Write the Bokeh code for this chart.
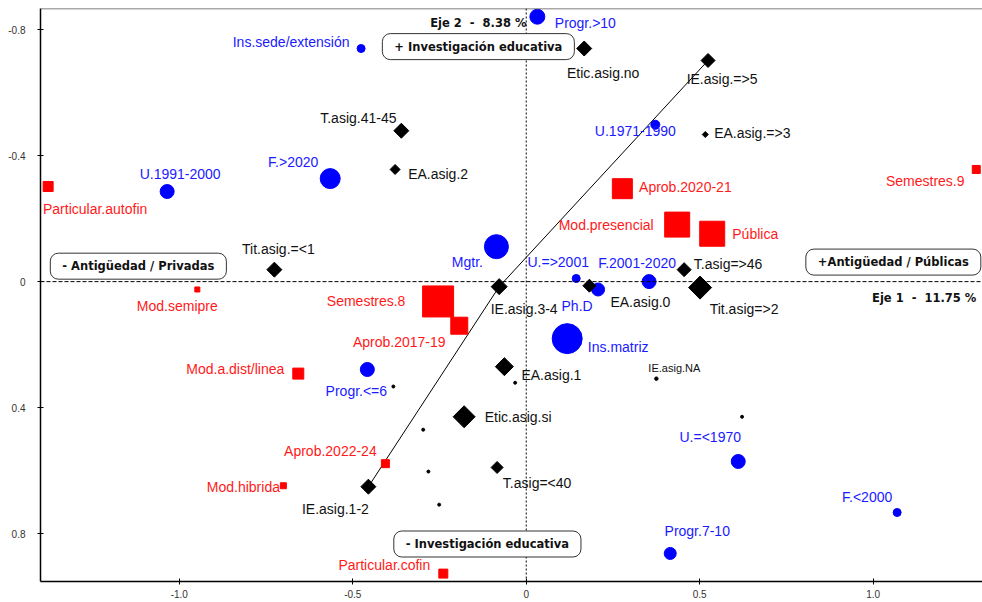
import math
from bokeh.plotting import figure
from bokeh.models import Range1d, FixedTicker, Span, Label, ColumnDataSource
from bokeh.embed import file_html
from bokeh.resources import INLINE
from bokeh.core.properties import value

# ---------------- data (factor map coordinates) ----------------
# Blue: institution / faculty / program characteristics (circles)
azul_cat = ["Progr.>10", "Ins.sede/extensión", "U.1991-2000", "F.>2020", "U.1971-1990",
            "Mgtr.", "U.=>2001", "Ph.D", "F.2001-2020", "Ins.matriz", "Progr.<=6",
            "U.=<1970", "F.<2000", "Progr.7-10"]
azul_x = [0.032, -0.476, -1.035, -0.565, 0.372, -0.086, 0.144, 0.207, 0.354, 0.118,
          -0.458, 0.611, 1.069, 0.415]
azul_y = [-0.841, -0.740, -0.286, -0.327, -0.498, -0.111, -0.010, 0.025, 0.000, 0.181,
          0.279, 0.571, 0.733, 0.863]
azul_peso = [1.5, 0.8, 1.4, 2.0, 0.9, 2.4, 0.8, 1.3, 1.4, 3.0, 1.4, 1.4, 0.8, 1.2]

# Red: financing / modality / semesters / approval (squares)
rojo_cat = ["Particular.autofin", "Semestres.9", "Aprob.2020-21", "Mod.presencial", "Pública",
            "Semestres.8", "Aprob.2017-19", "Mod.semipre", "Mod.a.dist/linea",
            "Aprob.2022-24", "Mod.hibrida", "Particular.cofin"]
rojo_x = [-1.378, 1.297, 0.277, 0.435, 0.536, -0.254, -0.193, -0.948, -0.657, -0.406,
          -0.700, -0.239]
rojo_y = [-0.302, -0.356, -0.295, -0.181, -0.152, 0.063, 0.140, 0.025, 0.292, 0.578,
          0.648, 0.927]
rojo_peso = [1.0, 0.8, 2.0, 2.5, 2.5, 3.1, 1.7, 0.5, 1.1, 0.8, 0.6, 0.9]

# Black: course / research variables (diamonds)
negro_cat = ["Etic.asig.no", "IE.asig.=>5", "T.asig.41-45", "EA.asig.2", "EA.asig.=>3",
             "Tit.asig.=<1", "IE.asig.3-4", "EA.asig.0", "T.asig=>46", "Tit.asig=>2",
             "EA.asig.1", "Etic.asig.si", "T.asig=<40", "IE.asig.1-2"]
negro_x = [0.167, 0.524, -0.360, -0.378, 0.516, -0.726, -0.078, 0.182, 0.455, 0.501,
           -0.063, -0.179, -0.084, -0.455]
negro_y = [-0.740, -0.702, -0.479, -0.356, -0.467, -0.038, 0.016, 0.013, -0.038, 0.019,
           0.270, 0.429, 0.590, 0.651]
negro_peso = [1.5, 1.4, 1.5, 1.0, 0.6, 1.5, 1.6, 1.3, 1.4, 2.3, 1.8, 2.2, 1.2, 1.5]

# Tiny category with small label
na_cat = ["IE.asig.NA"]
na_x = [0.375]
na_y = [0.308]

# Unlabelled minor categories
menor_x = [-0.032, -0.383, -0.297, -0.282, -0.251, 0.622]
menor_y = [0.321, 0.333, 0.470, 0.603, 0.708, 0.429]

# Trajectory of ordinal variable IE.asig (1-2 -> 3-4 -> =>5)
tray_cat = ["IE.asig.1-2", "IE.asig.3-4", "IE.asig.=>5"]

# Axis ticks
x_ticks = [-1.0, -0.5, 0.0, 0.5, 1.0]
x_tick_labels = ["-1.0", "-0.5", "0", "0.5", "1.0"]
y_ticks = [-0.8, -0.4, 0.0, 0.4, 0.8]
y_tick_labels = ["-0.8", "-0.4", "0", "0.4", "0.8"]

NB = "\u00a0"
eje1 = "Eje 1" + NB * 2 + "-" + NB * 2 + "11.75" + NB + "%"
eje2 = "Eje 2" + NB * 2 + "-" + NB * 2 + "8.38" + NB + "%"

# ---------------- label layout (screen pixel offsets) ----------------
azul_dx = [48, -70, 13, -37, -20, -29, -18, -21, -12, 51, -11, -28, -30, 27]
azul_dy = [6, -7, -18, -17, 6, 15, -16, 17, -19, 8, 22, -24, -16, -22]
rojo_dx = [47, -51, 63, -71, 43, -72, -60, -20, -63, -55, -40, -59]
rojo_dy = [23, 12, -2, 0, 0, 0, 16, 17, -5, -13, 1, -9]
negro_dx = [19, 14, -43, 43, 47, 4, 25, 51, 44, 44, 47, 54, 40, -33]
negro_dy = [24, 19, -13, 5, -2, -21, 22, 16, -6, 21, 8, 0, 16, 22]

XMIN, XMAX = -1.40, 1.315
YTOP, YBOT = -0.867, 0.952

p = figure(width=982, height=602, output_backend="svg", toolbar_location=None,
           x_range=Range1d(XMIN, XMAX), y_range=Range1d(YBOT, YTOP),
           min_border_left=40, min_border_right=0, min_border_top=8, min_border_bottom=21)
p.grid.visible = False
p.outline_line_color = None
p.background_fill_color = "white"
p.border_fill_color = "white"

for ax, ticks, labs in ((p.xaxis[0], x_ticks, x_tick_labels), (p.yaxis[0], y_ticks, y_tick_labels)):
    ax.ticker = FixedTicker(ticks=ticks)
    ax.major_label_overrides = {t: l for t, l in zip(ticks, labs)}
    ax.axis_line_color = "black"
    ax.axis_line_width = 1.5
    ax.major_tick_line_color = "black"
    ax.major_tick_in = 3
    ax.major_tick_out = 3
    ax.minor_tick_line_color = None
    ax.major_label_text_font = "Liberation Sans"
    ax.major_label_text_font_size = "10px"
    ax.major_label_text_color = "#333333"
p.yaxis[0].major_label_standoff = 12
p.xaxis[0].major_label_standoff = 5

# top border
p.add_layout(Span(location=YTOP, dimension="width", line_color="#555555", line_width=1.5))
# reference lines
p.add_layout(Span(location=0, dimension="width", line_color="black", line_width=1, line_dash="4 2"))
p.add_layout(Span(location=0, dimension="height", line_color="black", line_width=1, line_dash="2 2"))

# trajectory line
tx = [negro_x[negro_cat.index(c)] for c in tray_cat]
ty = [negro_y[negro_cat.index(c)] for c in tray_cat]
p.line(tx, ty, line_color="black", line_width=1)

# minor dots
p.scatter(menor_x, menor_y, marker="circle", size=3, color="black")
p.scatter(na_x, na_y, marker="circle", size=3.5, color="black")

# markers
src_a = ColumnDataSource(dict(x=azul_x, y=azul_y, s=[10 * w for w in azul_peso], t=azul_cat,
                              dx=azul_dx, dy=azul_dy))
src_r = ColumnDataSource(dict(x=rojo_x, y=rojo_y, s=[10 * w for w in rojo_peso], t=rojo_cat,
                              dx=rojo_dx, dy=rojo_dy))
src_n = ColumnDataSource(dict(x=negro_x, y=negro_y, s=[10 * w / math.sqrt(2) for w in negro_peso],
                              t=negro_cat, dx=negro_dx, dy=negro_dy))

p.scatter("x", "y", size="s", source=src_a, marker="circle", fill_color="#0000FF", line_color="#0000FF")
p.scatter("x", "y", size="s", source=src_r, marker="square", fill_color="#FF0000", line_color="#FF0000")
p.scatter("x", "y", size="s", source=src_n, marker="square", angle=math.pi / 4,
          fill_color="black", line_color="black")

font = value("Liberation Sans")
for src, col in ((src_a, "#1a1aff"), (src_r, "#ff1a1a"), (src_n, "#111111")):
    p.text("x", "y", text="t", source=src, x_offset="dx", y_offset="dy",
           text_align="center", text_baseline="middle", text_font=font,
           text_font_size="14px", text_color=col)

p.text(na_x, na_y, text=na_cat, x_offset=18, y_offset=-11, text_align="center",
       text_baseline="middle", text_font=font, text_font_size="11px", text_color="#111111")

# axis captions
bold = dict(text_font="DejaVu Sans", text_font_style="bold", text_font_size="11.5px",
            text_color="#111111", text_baseline="middle", text_align="center")
p.add_layout(Label(x=-0.138, y=-0.822, text=eje2, **bold))
p.add_layout(Label(x=1.147, y=0.051, text=eje1, **bold))

# boxed pole descriptions
boxed = dict(bold, border_line_color="#333333", border_line_width=1,
             background_fill_color="white", border_radius=8,
             padding=dict(left=12, right=12, top=6, bottom=6))
p.add_layout(Label(x=-0.138, y=-0.746, text="+ Investigación educativa", **boxed))
p.add_layout(Label(x=-1.118, y=-0.049, text="- Antigüedad / Privadas", **boxed))
p.add_layout(Label(x=1.058, y=-0.062, text="+Antigüedad / Públicas", **boxed))
p.add_layout(Label(x=-0.112, y=0.833, text="- Investigación educativa", **boxed))

open("out.html", "w").write(file_html(p, INLINE))
